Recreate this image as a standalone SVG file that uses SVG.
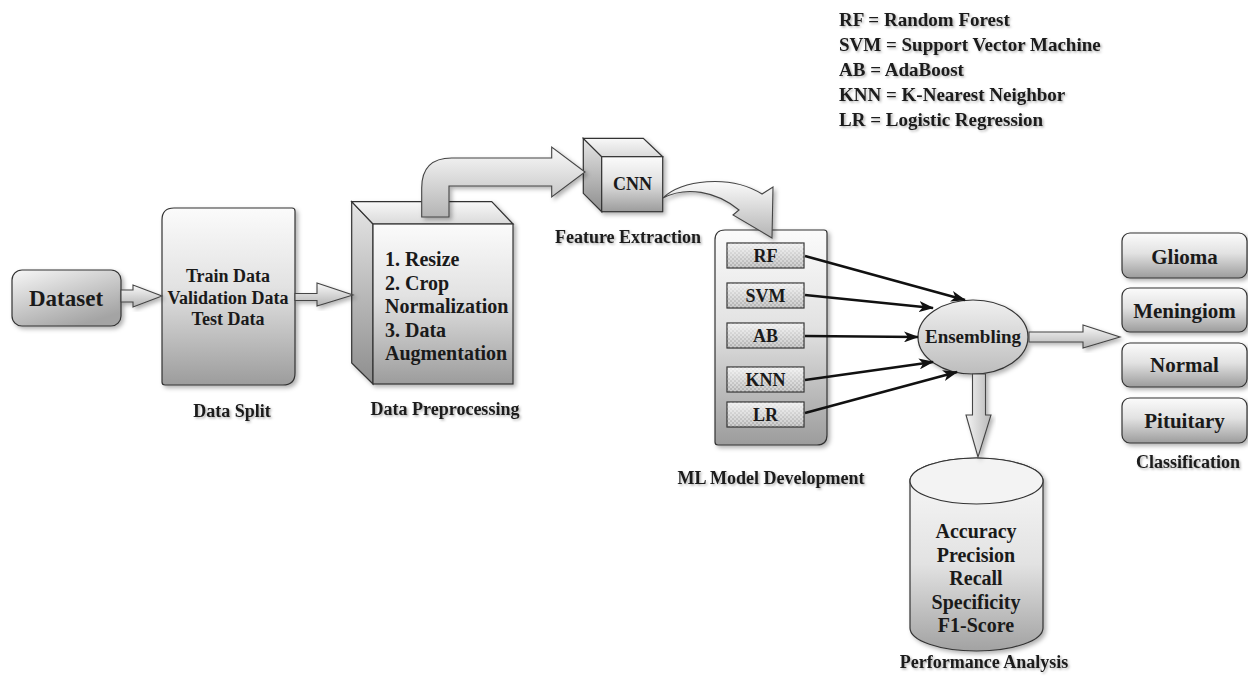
<svg xmlns="http://www.w3.org/2000/svg" width="1248" height="681" viewBox="0 0 1248 681">
  <defs>
    <linearGradient id="gBox" x1="0" y1="0" x2="0" y2="1">
      <stop offset="0" stop-color="#fbfbfb"/>
      <stop offset="0.45" stop-color="#e2e2e2"/>
      <stop offset="1" stop-color="#9c9c9c"/>
    </linearGradient>
    <linearGradient id="gDiag" x1="0" y1="0" x2="0.6" y2="1">
      <stop offset="0" stop-color="#f7f7f7"/>
      <stop offset="1" stop-color="#a4a4a4"/>
    </linearGradient>
    <linearGradient id="gTop" x1="0" y1="0" x2="0" y2="1">
      <stop offset="0" stop-color="#f8f8f8"/>
      <stop offset="1" stop-color="#dadada"/>
    </linearGradient>
    <linearGradient id="gSide" x1="0" y1="0" x2="0" y2="1">
      <stop offset="0" stop-color="#e6e6e6"/>
      <stop offset="1" stop-color="#8e8e8e"/>
    </linearGradient>
    <linearGradient id="gArrowH" x1="0" y1="0" x2="0" y2="1">
      <stop offset="0" stop-color="#fafafa"/>
      <stop offset="1" stop-color="#b4b4b4"/>
    </linearGradient>
    <linearGradient id="gArrowV" x1="0" y1="0" x2="1" y2="0">
      <stop offset="0" stop-color="#f4f4f4"/>
      <stop offset="1" stop-color="#b8b8b8"/>
    </linearGradient>
    <linearGradient id="gEll" x1="0" y1="0" x2="0" y2="1">
      <stop offset="0" stop-color="#f0f0f0"/>
      <stop offset="1" stop-color="#bdbdbd"/>
    </linearGradient>
    <linearGradient id="gCyl" x1="0" y1="0" x2="0" y2="1">
      <stop offset="0" stop-color="#fafafa"/>
      <stop offset="0.55" stop-color="#e2e2e2"/>
      <stop offset="1" stop-color="#a2a2a2"/>
    </linearGradient>
    <linearGradient id="gModel" x1="0" y1="0" x2="0" y2="1">
      <stop offset="0" stop-color="#eeeeee"/>
      <stop offset="1" stop-color="#b0b0b0"/>
    </linearGradient>
    <pattern id="chk" width="4" height="4" patternUnits="userSpaceOnUse">
      <rect width="2" height="2" fill="#ffffff" fill-opacity="0.35"/>
      <rect x="2" y="2" width="2" height="2" fill="#ffffff" fill-opacity="0.35"/>
    </pattern>
    <filter id="shadow" x="-20%" y="-20%" width="140%" height="140%">
      <feDropShadow dx="2.5" dy="2.5" stdDeviation="2" flood-color="#000" flood-opacity="0.3"/>
    </filter>
    <filter id="tshadow" x="-10%" y="-30%" width="120%" height="160%">
      <feDropShadow dx="1.5" dy="1.5" stdDeviation="1.2" flood-color="#000" flood-opacity="0.3"/>
    </filter>
    <marker id="head" markerWidth="15" markerHeight="11" refX="14" refY="5.5" orient="auto" markerUnits="userSpaceOnUse">
      <path d="M0,0 L15,5.5 L0,11 L4,5.5 Z" fill="#111"/>
    </marker>
    <style>
      .t { font-family: "Liberation Serif", "Times New Roman", serif; font-weight: bold; fill: #1a1a1a; }
      .lab { font-size: 18px; text-anchor: middle; filter: url(#tshadow); }
      .leg { font-size: 19px; filter: url(#tshadow); }
      .ln { stroke: #333; stroke-width: 1.2; }
      .blk { stroke: #444; stroke-width: 1.1; fill: url(#gArrowH); filter: url(#shadow); }
      .wire { stroke: #111; stroke-width: 2.6; fill: none; marker-end: url(#head); }
    </style>
  </defs>

  <rect width="1248" height="681" fill="#ffffff"/>

  <!-- legend -->
  <g id="legend" class="t leg">
    <text x="839" y="26">RF = Random Forest</text>
    <text x="839" y="51">SVM = Support Vector Machine</text>
    <text x="839" y="76">AB = AdaBoost</text>
    <text x="839" y="101">KNN = K-Nearest Neighbor</text>
    <text x="839" y="126">LR = Logistic Regression</text>
  </g>

  <!-- dataset -->
  <g id="dataset">
    <rect x="12" y="270" width="109" height="56" rx="10" fill="url(#gDiag)" class="ln" filter="url(#shadow)"/>
    <text x="66" y="306" class="t" font-size="23" text-anchor="middle">Dataset</text>
  </g>

  <!-- data split -->
  <g id="data-split">
    <path d="M174,208 L292,208 Q295,208 295,211 L295,373 Q295,385 283,385 L165,385 Q162,385 162,382 L162,220 Q162,208 174,208 Z" fill="url(#gBox)" class="ln" filter="url(#shadow)"/>
    <g class="t" font-size="18" text-anchor="middle">
      <text x="228" y="282">Train Data</text>
      <text x="228" y="303.5">Validation Data</text>
      <text x="228" y="325">Test Data</text>
    </g>
    <text x="232" y="417" class="t lab">Data Split</text>
  </g>

  <!-- data preprocessing cube -->
  <g id="data-preprocessing">
    <g filter="url(#shadow)">
      <polygon points="351.7,201.7 373,224 373,384 351.7,363" fill="url(#gSide)" class="ln"/>
      <polygon points="351.7,201.7 491.7,201.7 513,224 373,224" fill="url(#gTop)" class="ln"/>
      <rect x="373" y="224" width="140" height="160" fill="url(#gBox)" class="ln"/>
    </g>
    <g class="t" font-size="20">
      <text x="385" y="266">1. Resize</text>
      <text x="385" y="290">2. Crop</text>
      <text x="385" y="313">Normalization</text>
      <text x="385" y="337">3. Data</text>
      <text x="385" y="360">Augmentation</text>
    </g>
    <text x="445" y="415" class="t lab">Data Preprocessing</text>
  </g>

  <!-- CNN cube -->
  <g id="cnn">
    <g filter="url(#shadow)">
      <polygon points="583.3,138.3 601.7,156.7 601.7,211.7 583.3,193.3" fill="url(#gSide)" class="ln"/>
      <polygon points="583.3,138.3 643.3,138.3 662.7,156.7 601.7,156.7" fill="url(#gTop)" class="ln"/>
      <rect x="601.7" y="156.7" width="61" height="55" fill="url(#gBox)" class="ln"/>
    </g>
    <text x="632.5" y="190" class="t" font-size="18" text-anchor="middle">CNN</text>
    <text x="628" y="243" class="t lab">Feature Extraction</text>
  </g>

  <!-- ML model development -->
  <g id="ml-models">
    <path d="M725,230 L824,230 Q827,230 827,233 L827,435 Q827,445 817,445 L718,445 Q715,445 715,442 L715,240 Q715,230 725,230 Z" fill="url(#gBox)" class="ln" filter="url(#shadow)"/>
    <g class="ln">
      <rect x="727" y="243" width="77" height="25" fill="url(#gModel)"/>
      <rect x="727" y="283" width="77" height="25" fill="url(#gModel)"/>
      <rect x="727" y="323" width="77" height="25" fill="url(#gModel)"/>
      <rect x="727" y="367" width="77" height="25" fill="url(#gModel)"/>
      <rect x="727" y="402" width="77" height="25" fill="url(#gModel)"/>
    </g>
    <g fill="url(#chk)">
      <rect x="727.6" y="243.6" width="75.8" height="23.8"/>
      <rect x="727.6" y="283.6" width="75.8" height="23.8"/>
      <rect x="727.6" y="323.6" width="75.8" height="23.8"/>
      <rect x="727.6" y="367.6" width="75.8" height="23.8"/>
      <rect x="727.6" y="402.6" width="75.8" height="23.8"/>
    </g>
    <g class="t" font-size="18" text-anchor="middle">
      <text x="765.5" y="262">RF</text>
      <text x="765.5" y="302">SVM</text>
      <text x="765.5" y="342">AB</text>
      <text x="765.5" y="386">KNN</text>
      <text x="765.5" y="421">LR</text>
    </g>
    <text x="771" y="484" class="t lab">ML Model Development</text>
  </g>

  <!-- ensembling -->
  <g id="ensembling">
    <ellipse cx="973" cy="337" rx="55" ry="37" fill="url(#gEll)" class="ln" filter="url(#shadow)"/>
    <text x="973" y="343" class="t" font-size="19" text-anchor="middle">Ensembling</text>
  </g>

  <!-- performance analysis -->
  <g id="performance">
    <g filter="url(#shadow)">
      <path d="M910,481 L910,628 A66.5,23 0 0 0 1043,628 L1043,481 A66.5,23 0 0 0 910,481 Z" fill="url(#gCyl)" class="ln"/>
      <ellipse cx="976.5" cy="481" rx="66.5" ry="23" fill="#f3f3f3" class="ln"/>
    </g>
    <g class="t" font-size="20" text-anchor="middle">
      <text x="976" y="538">Accuracy</text>
      <text x="976" y="562">Precision</text>
      <text x="976" y="585">Recall</text>
      <text x="976" y="609">Specificity</text>
      <text x="976" y="632">F1-Score</text>
    </g>
    <text x="984" y="668" class="t lab">Performance Analysis</text>
  </g>

  <!-- classification -->
  <g id="classification">
    <g class="ln" filter="url(#shadow)">
      <rect x="1122" y="233" width="125" height="45" rx="8" fill="url(#gBox)"/>
      <rect x="1122" y="288" width="125" height="44" rx="8" fill="url(#gBox)"/>
      <rect x="1122" y="343" width="125" height="44" rx="8" fill="url(#gBox)"/>
      <rect x="1122" y="398" width="125" height="45" rx="8" fill="url(#gBox)"/>
    </g>
    <g class="t" font-size="21" text-anchor="middle">
      <text x="1184.5" y="264">Glioma</text>
      <text x="1184.5" y="318">Meningiom</text>
      <text x="1184.5" y="372">Normal</text>
      <text x="1184.5" y="428">Pituitary</text>
    </g>
    <text x="1188" y="468" class="t lab">Classification</text>
  </g>

  <!-- connectors -->
  <g id="connectors">
    <polygon class="blk" points="121,290 133,290 133,285 162,296 133,307 133,302 121,302"/>
    <polygon class="blk" points="295,293.5 317,293.5 317,283 353,295 317,306 317,300.5 295,300.5"/>
    <path class="blk" d="M421.7,217 L421.7,188 Q421.7,158 451.7,158 L551.7,158 L551.7,147 L585,172 L551.7,197 L551.7,186 L449,186 L449,217 Z"/>
    <path class="blk" d="M663,198 C680,180 730,174 762,194 L773,187 L772,238 L733,215 L739,210 C716,191 686,186 663,198 Z"/>
    <line class="wire" x1="805" y1="256" x2="965" y2="300"/>
    <line class="wire" x1="805" y1="295" x2="933" y2="308"/>
    <line class="wire" x1="805" y1="336" x2="918" y2="337"/>
    <line class="wire" x1="805" y1="380" x2="933" y2="362"/>
    <line class="wire" x1="805" y1="413" x2="957" y2="372"/>
    <polygon class="blk" points="1029,332 1083,332 1083,325 1120,337 1083,348 1083,342 1029,342"/>
    <polygon class="blk" style="fill:url(#gArrowV)" points="972.5,374 985.5,374 985.5,415 991,415 978,457 966,415 972.5,415"/>
  </g>
</svg>
